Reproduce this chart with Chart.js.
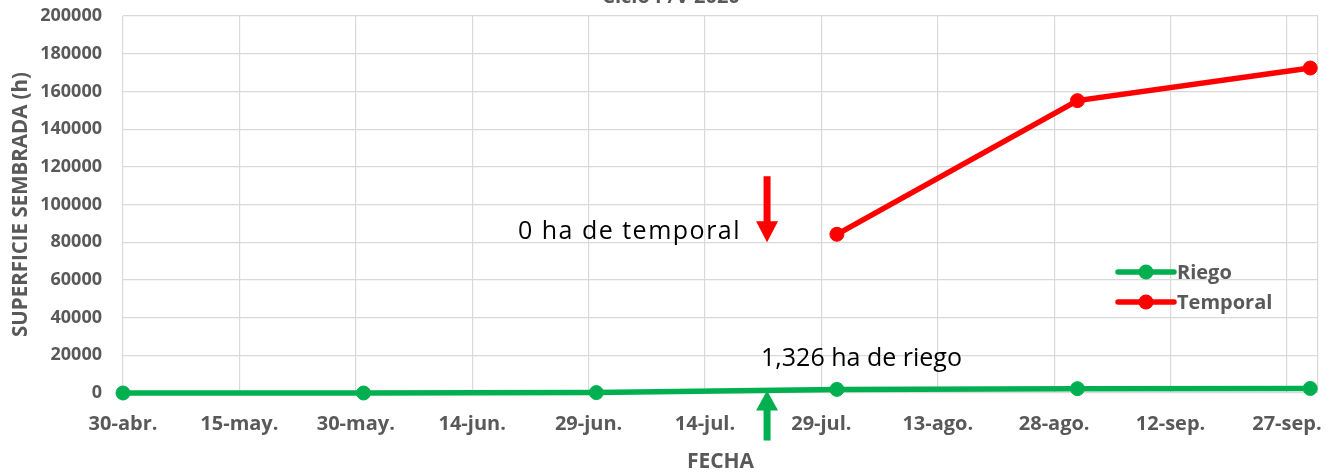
<!DOCTYPE html>
<html lang="es">
<head>
    <style>
        body {
            margin: 0;
            background-color: #fff;
        }

        #chartBox {
            width: 1340px;
            height: 475px;
            position: relative;
        }
    </style>
</head>
<body>

<div id="chartBox">
    <canvas id="siembraChart"></canvas>
</div>

<script src="https://cdn.jsdelivr.net/npm/chart.js"></script>
<script>
    // Days counted from 30-abr.
    const pointDays = [0, 31, 61, 92, 123, 153];
    const riego = [0, 0, 200, 1900, 2300, 2400];
    const temporal = [null, null, null, 84200, 155100, 172400];

    const tickDays = [0, 15, 30, 45, 60, 75, 90, 105, 120, 135, 150];
    const tickLabels = ['30-abr.', '15-may.', '30-may.', '14-jun.', '29-jun.', '14-jul.',
        '29-jul.', '13-ago.', '28-ago.', '12-sep.', '27-sep.'];
    const xMax = 154;
    const yTicks = [0, 20000, 40000, 60000, 80000, 100000, 120000, 140000, 160000, 180000, 200000];

    const gray = '#595959';
    const green = '#00B050';
    const red = '#FF0000';

    function toPoints(values) {
        return pointDays.map((d, i) => ({ x: d, y: values[i] }));
    }

    // Title, arrows, notes and legend drawn over the chart
    const extras = {
        id: 'extras',
        afterDatasetsDraw(chart) {
            const ctx = chart.ctx;
            const x = chart.scales.x;
            const y = chart.scales.y;
            const area = chart.chartArea;
            ctx.save();

            // title, cut off at the top like the original
            ctx.fillStyle = gray;
            ctx.font = 'bold 20px "Open Sans"';
            ctx.textAlign = 'center';
            ctx.textBaseline = 'alphabetic';
            ctx.fillText('Ciclo P/V 2020', 671, 3);

            const arrowX = x.getPixelForValue(83);

            // red arrow down
            const redTop = y.getPixelForValue(115000);
            const redTip = y.getPixelForValue(80000);
            ctx.fillStyle = red;
            ctx.fillRect(arrowX - 3.5, redTop, 7, redTip - redTop - 20);
            ctx.beginPath();
            ctx.moveTo(arrowX - 11, redTip - 21);
            ctx.lineTo(arrowX + 11, redTip - 21);
            ctx.lineTo(arrowX, redTip);
            ctx.closePath();
            ctx.fill();

            // green arrow up
            const greenTip = y.getPixelForValue(1326);
            ctx.fillStyle = green;
            ctx.fillRect(arrowX - 3.5, greenTip + 19, 7, 31);
            ctx.beginPath();
            ctx.moveTo(arrowX - 11, greenTip + 20);
            ctx.lineTo(arrowX + 11, greenTip + 20);
            ctx.lineTo(arrowX, greenTip);
            ctx.closePath();
            ctx.fill();

            // notes
            ctx.fillStyle = '#000';
            ctx.font = '25px "Open Sans"';
            ctx.letterSpacing = '1.5px';
            ctx.textAlign = 'right';
            ctx.fillText('0 ha de temporal', arrowX - 26, redTip - 3);
            ctx.letterSpacing = '0px';
            ctx.textAlign = 'left';
            ctx.fillText('1,326 ha de riego', arrowX - 6, greenTip - 25);

            // legend
            const items = [['Riego', green], ['Temporal', red]];
            ctx.font = 'bold 20px "Open Sans"';
            ctx.textBaseline = 'middle';
            items.forEach((item, i) => {
                const ly = 272 + i * 30;
                const lx = area.right - 200;
                ctx.strokeStyle = item[1];
                ctx.fillStyle = item[1];
                ctx.lineWidth = 5.5;
                ctx.lineCap = 'round';
                ctx.beginPath();
                ctx.moveTo(lx, ly);
                ctx.lineTo(lx + 56, ly);
                ctx.stroke();
                ctx.beginPath();
                ctx.arc(lx + 28, ly, 7.5, 0, Math.PI * 2);
                ctx.fill();
                ctx.fillStyle = gray;
                ctx.fillText(item[0], lx + 59, ly + 1);
            });

            ctx.restore();
        }
    };

    const ctx = document.getElementById('siembraChart').getContext('2d');

    new Chart(ctx, {
        type: 'line',
        data: {
            datasets: [
                {
                    label: 'Riego',
                    data: toPoints(riego),
                    borderColor: green,
                    backgroundColor: green,
                    borderWidth: 5.5,
                    pointRadius: 7,
                    pointBorderWidth: 1,
                    tension: 0,
                    clip: false
                },
                {
                    label: 'Temporal',
                    data: toPoints(temporal),
                    borderColor: red,
                    backgroundColor: red,
                    borderWidth: 5.5,
                    pointRadius: 7,
                    pointBorderWidth: 1,
                    tension: 0,
                    spanGaps: false,
                    clip: false
                }
            ]
        },
        options: {
            responsive: true,
            maintainAspectRatio: false,
            animation: false,
            layout: {
                padding: { top: 16, right: 22, left: 0, bottom: 0 }
            },
            plugins: {
                legend: { display: false },
                tooltip: { enabled: false }
            },
            scales: {
                x: {
                    type: 'linear',
                    min: 0,
                    max: xMax,
                    afterFit: scale => { scale.height = 82; },
                    afterBuildTicks: scale => {
                        scale.ticks = tickDays.concat([xMax]).map(v => ({ value: v }));
                    },
                    grid: { color: '#d9d9d9', lineWidth: 1.2, drawTicks: true, tickLength: 19, tickColor: 'rgba(0,0,0,0)' },
                    border: { display: false },
                    ticks: {
                        autoSkip: false,
                        maxRotation: 0,
                        padding: 0,
                        color: gray,
                        font: { family: 'Open Sans', size: 20, weight: 'bold' },
                        callback: value => {
                            const i = tickDays.indexOf(value);
                            return i >= 0 ? tickLabels[i] : '';
                        }
                    },
                    title: {
                        display: true,
                        text: 'FECHA',
                        color: gray,
                        font: { family: 'Open Sans', size: 21, weight: 'bold' },
                        padding: { top: 0, bottom: 0 }
                    }
                },
                y: {
                    min: 0,
                    max: 200000,
                    afterFit: scale => { scale.width = 123; },
                    afterBuildTicks: scale => {
                        scale.ticks = yTicks.map(v => ({ value: v }));
                    },
                    grid: { color: '#d9d9d9', lineWidth: 1.2, drawTicks: true, tickLength: 21, tickColor: 'rgba(0,0,0,0)' },
                    border: { display: false },
                    ticks: {
                        padding: 0,
                        color: gray,
                        font: { family: 'Open Sans', size: 18, weight: 'bold' },
                        callback: value => String(value)
                    },
                    title: {
                        display: true,
                        text: 'SUPERFICIE SEMBRADA (h)',
                        color: gray,
                        font: { family: 'Open Sans', size: 20.5, weight: 'bold' },
                        padding: { top: 9, bottom: 0 }
                    }
                }
            }
        },
        plugins: [extras]
    });
</script>

</body>
</html>
